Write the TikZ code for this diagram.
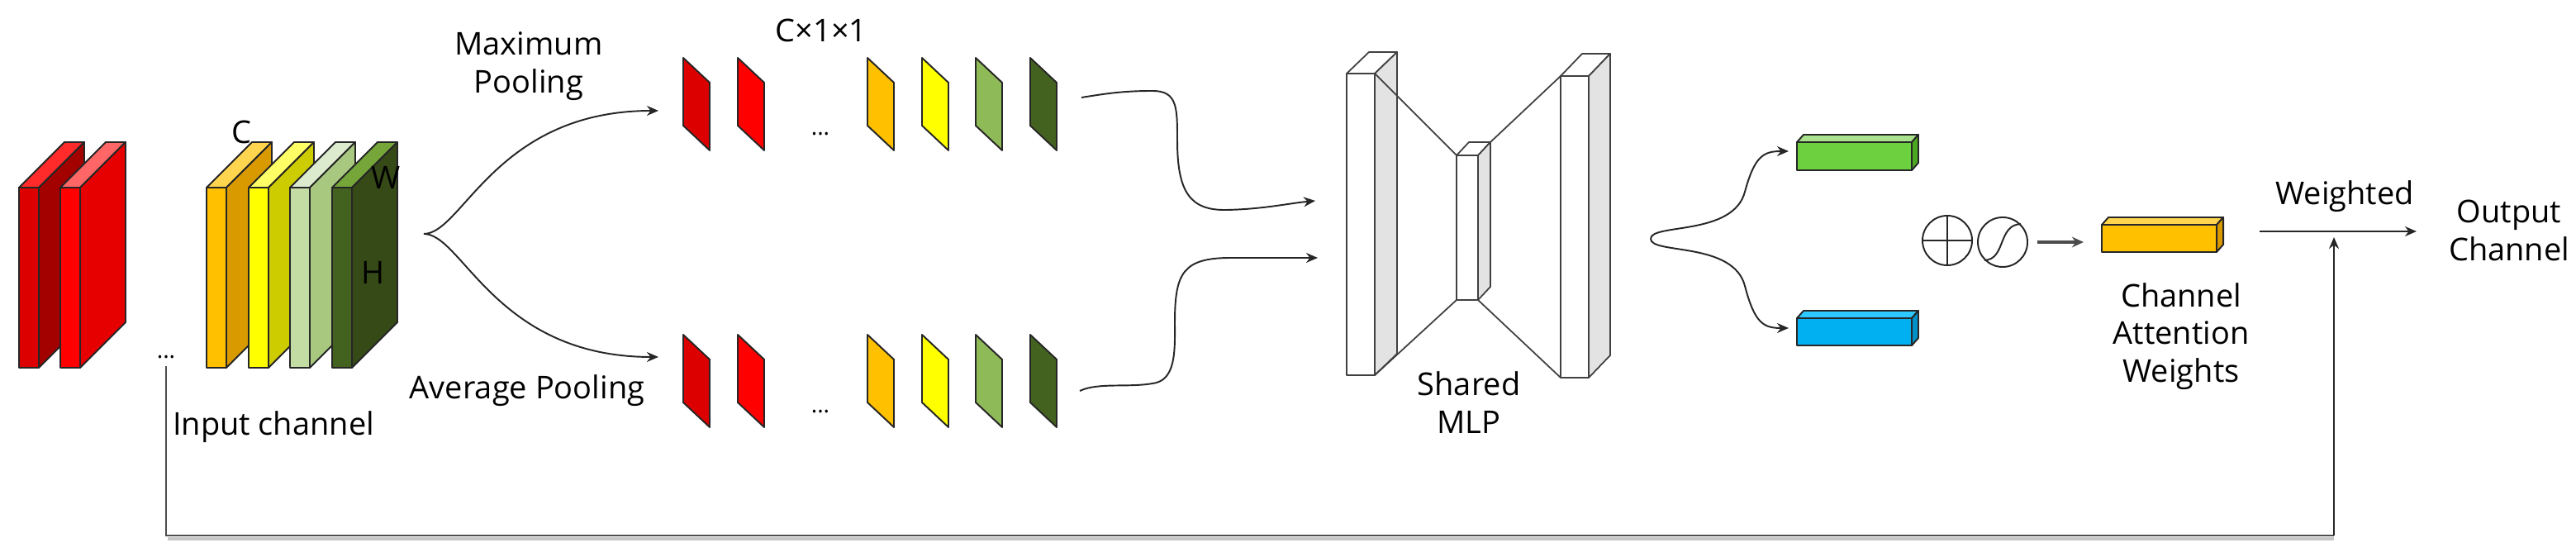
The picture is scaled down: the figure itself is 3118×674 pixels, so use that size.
\documentclass[tikz,border=0pt]{standalone}
\usepackage{fontspec}
\setmainfont{Open Sans}
\usetikzlibrary{arrows.meta}
\definecolor{redAf}{HTML}{DD0000}\definecolor{redAs}{HTML}{A30000}\definecolor{redAt}{HTML}{FF2A2A}
\definecolor{redBf}{HTML}{FF0000}\definecolor{redBs}{HTML}{E60000}\definecolor{redBt}{HTML}{FF6666}
\definecolor{orf}{HTML}{FFC000}\definecolor{ors}{HTML}{D99A00}\definecolor{ort}{HTML}{FFD54F}
\definecolor{yef}{HTML}{FFFF00}\definecolor{yes}{HTML}{CCCC00}\definecolor{yet}{HTML}{FFFF66}
\definecolor{lgf}{HTML}{C3DCA3}\definecolor{lgs}{HTML}{A8C880}\definecolor{lgt}{HTML}{DCEBCE}
\definecolor{dgf}{HTML}{44621F}\definecolor{dgs}{HTML}{354A17}\definecolor{dgt}{HTML}{76A63A}
\definecolor{plg}{HTML}{8FBA58}
\definecolor{grf}{HTML}{6DD13F}\definecolor{grs}{HTML}{4CA820}\definecolor{grt}{HTML}{A9E18C}
\definecolor{blf}{HTML}{00B0F0}\definecolor{bls}{HTML}{0090C8}\definecolor{blt}{HTML}{2CC8FF}
\definecolor{mlps}{HTML}{E3E3E3}
\newcommand{\mycuboid}[9]{%
  \filldraw[fill=#9,edge] (#1,#2) -- ++(#5,-#6) -- ++(#3,0) -- ++(-#5,#6) -- cycle;
  \filldraw[fill=#8,edge] (#1+#3,#2) -- ++(#5,-#6) -- ++(0,#4) -- ++(-#5,#6) -- cycle;
  \filldraw[fill=#7,edge] (#1,#2) rectangle ++(#3,#4);
}
\newcommand{\pslab}[3]{%
  \filldraw[fill=#3,edge] (#1,#2) -- ++(32,30) -- ++(0,82) -- ++(-32,-30) -- cycle;
}
\tikzset{
  edge/.style={draw=black!85,line width=0.55pt,line join=round},
  mlpedge/.style={draw=black!75,line width=0.5pt,line join=round},
  lbl/.style={font=\fontsize{10.8}{13}\selectfont,align=center,inner sep=0pt},
  dots/.style={font=\fontsize{8}{9}\selectfont,inner sep=0pt},
  conn/.style={draw=black!85,line width=0.55pt},
  arr/.style={conn,-{Stealth[length=4pt,width=3.4pt]}},
  opcircle/.style={circle,draw=black!85,line width=0.55pt,minimum size=0.6cm,inner sep=0pt},
}
\begin{document}
\begin{tikzpicture}[x=0.01cm,y=-0.01cm]
\useasboundingbox (0,0) rectangle (3118,674);
\fill[white] (0,0) rectangle (3118,674);

% skip connection (behind everything)
\coordinate (skipstart) at (201,443);
\coordinate (skipA) at (201,648);
\coordinate (skipB) at (2825,648);
\coordinate (wjoin) at (2825,287);
\draw[gray!45,line width=1pt] (203,652) -- (2825,652);
\draw[gray!60!black,line width=0.7pt] (skipstart) -- (skipA) -- (skipB);
\draw[arr] (skipB) -- (wjoin);

% input feature maps
\mycuboid{23}{227}{24}{218}{55}{55}{redAf}{redAs}{redAt}
\mycuboid{73}{227}{24}{218}{55}{55}{redBf}{redBs}{redBt}
\mycuboid{250}{227}{24}{218}{55}{55}{orf}{ors}{ort}
\mycuboid{301}{227}{24}{218}{55}{55}{yef}{yes}{yet}
\mycuboid{351}{227}{24}{218}{55}{55}{lgf}{lgs}{lgt}
\mycuboid{402}{227}{24}{218}{55}{55}{dgf}{dgs}{dgt}
\node[lbl] (labC) at (292,160) {C};
\node[lbl] (labW) at (467,215) {W};
\node[lbl] (labH) at (452,330) {H};
\node[dots] (indots) at (201,432) {...};
\node[lbl] (inlab) at (331,517) {Input channel};

% fork
\coordinate (fork) at (513,283);
\coordinate (maxin) at (797,134);
\coordinate (avgin) at (797,432);
\draw[arr] (fork) .. controls (560,283) and (600,134) .. (maxin);
\draw[arr] (fork) .. controls (560,283) and (600,432) .. (avgin);
\node[lbl] (maxlab) at (640,80) {Maximum\\Pooling};
\node[lbl] (avglab) at (638,473) {Average Pooling};

% pooled vectors
\node[lbl] (c11) at (994,37) {C×1×1};
\foreach \yy in {70,405}{
  \pslab{827}{\yy}{redAf}
  \pslab{893}{\yy}{redBf}
  \pslab{1050}{\yy}{orf}
  \pslab{1116}{\yy}{yef}
  \pslab{1181}{\yy}{plg}
  \pslab{1247}{\yy}{dgf}
}
\node[dots] (pdots1) at (993,162) {...};
\node[dots] (pdots2) at (993,498) {...};

% curves into MLP
\coordinate (maxout) at (1309,118);
\coordinate (avgout) at (1307,473);
\coordinate (mlpinA) at (1592,243);
\coordinate (mlpinB) at (1595,312);
\draw[arr] (maxout) .. controls (1340,113) and (1360,110) .. (1395,110)
  .. controls (1425,110) and (1425,130) .. (1425,170)
  .. controls (1425,232) and (1440,255) .. (1485,254)
  .. controls (1530,253) and (1560,246) .. (mlpinA);
\draw[arr] (avgout) .. controls (1330,462) and (1370,470) .. (1400,463)
  .. controls (1424,456) and (1422,420) .. (1422,390)
  .. controls (1422,330) and (1432,312) .. (1490,312)
  .. controls (1530,312) and (1560,312) .. (mlpinB);

% shared MLP
\tikzset{edge/.style={mlpedge}}
\mycuboid{1630}{89}{34}{365}{27}{26}{white}{mlps}{white}
\mycuboid{1763}{188}{26}{175}{15}{16}{white}{mlps}{white}
\mycuboid{1889}{92}{34}{365}{26}{27}{white}{mlps}{white}
\tikzset{edge/.style={draw=black!85,line width=0.55pt,line join=round}}
\draw[mlpedge] (1664,89) -- (1763,188);
\draw[mlpedge] (1664,454) -- (1763,363);
\draw[mlpedge] (1804,172) -- (1889,92);
\draw[mlpedge] (1789,363) -- (1889,457);
\node[lbl] (mlplab) at (1778,487) {Shared\\MLP};

% split into two descriptors
\coordinate (loop) at (1998,289);
\coordinate (grin) at (2165,183);
\coordinate (blin) at (2165,397);
\draw[arr] (loop) .. controls (1998,270) and (2098,286) .. (2112,232)
  .. controls (2124,188) and (2135,183) .. (grin);
\draw[arr] (loop) .. controls (1998,308) and (2098,292) .. (2112,346)
  .. controls (2124,392) and (2135,397) .. (blin);
\mycuboid{2175}{172}{139}{34}{8}{9}{grf}{grs}{grt}
\mycuboid{2175}{385}{139}{33}{8}{9}{blf}{bls}{blt}

% add + sigmoid
\node[opcircle] (plus) at (2357,291) {};
\draw[conn] (plus.north) -- (plus.south);
\draw[conn] (plus.west) -- (plus.east);
\node[opcircle] (sig) at (2424,293) {};
\draw[conn] (sig.225) .. controls (2428,314) and (2418,272) .. (sig.45);
\coordinate (sigout) at (2466,293);
\coordinate (attin) at (2522,293);
\draw[gray!60!black,line width=0.9pt,-{Stealth[length=4pt,width=3.6pt]}] (sigout) -- (attin);

% attention weights
\mycuboid{2544}{272}{139}{33}{8}{9}{orf}{ors}{ort}
\node[lbl] (attlab) at (2640,407) {Channel\\Attention\\Weights};

% weighting and output
\coordinate (wstart) at (2735,280);
\coordinate (wend) at (2925,280);
\draw[arr] (wstart) -- (wend);
\node[lbl] (wlab) at (2838,238) {Weighted};
\node[lbl] (outlab) at (3037,279) {Output\\Channel};
\end{tikzpicture}
\end{document}
